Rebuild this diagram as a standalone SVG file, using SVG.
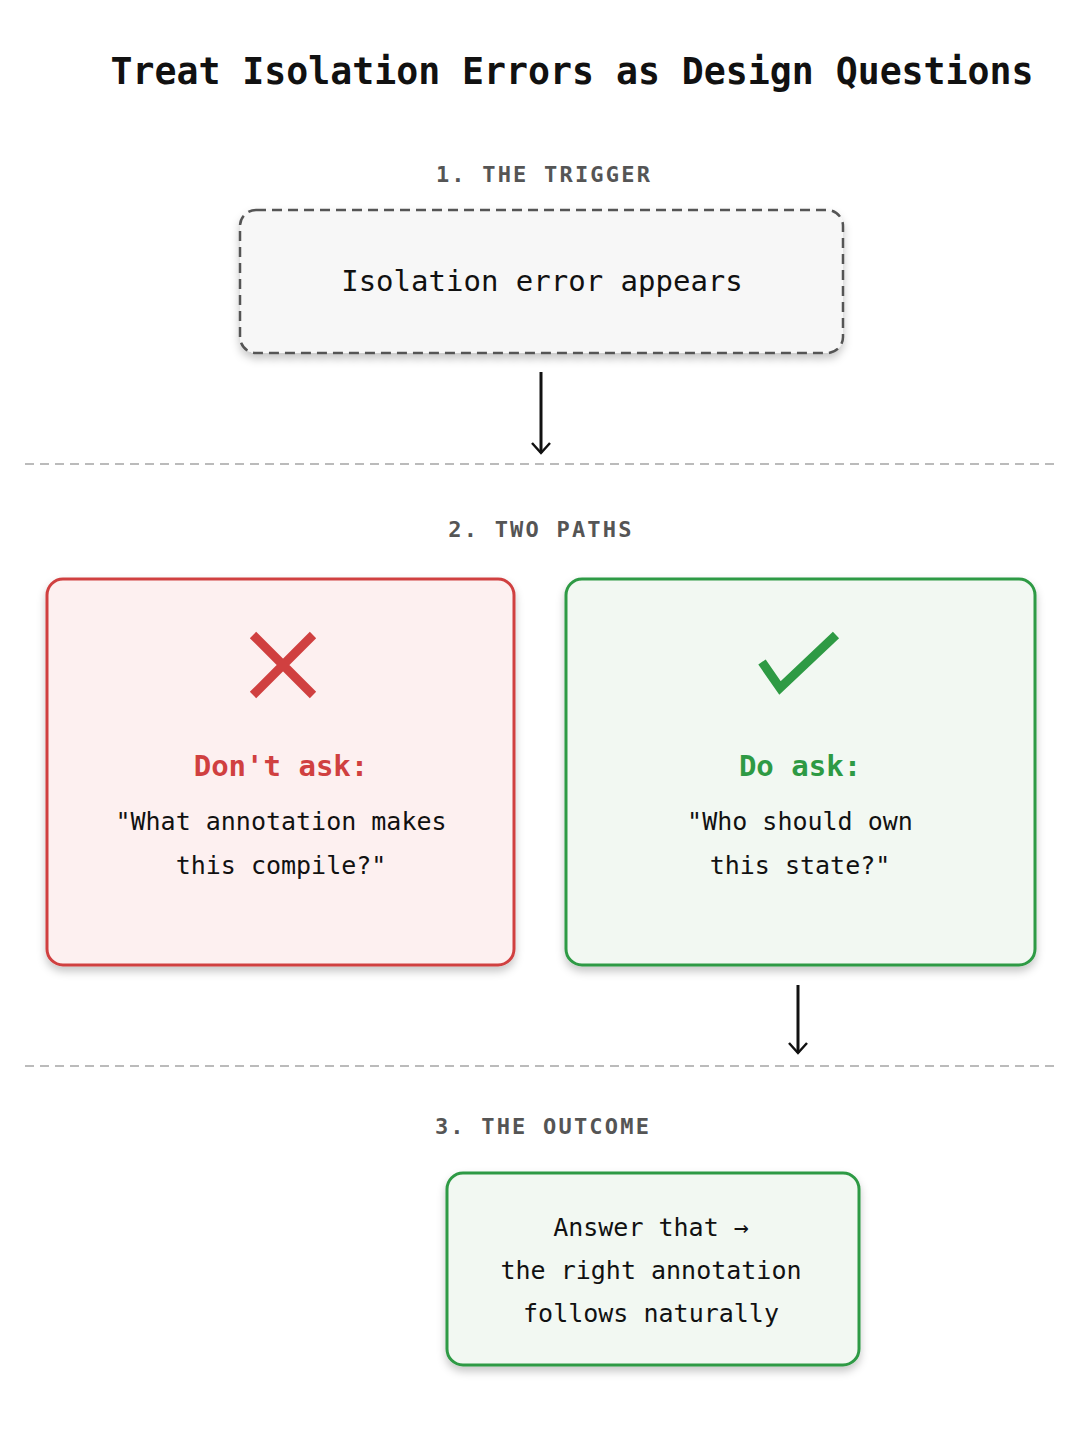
<svg xmlns="http://www.w3.org/2000/svg" width="1086" height="1448" viewBox="0 0 1086 1448">
<defs>
<filter id="sh" x="-10%" y="-10%" width="120%" height="130%"><feDropShadow dx="0" dy="5" stdDeviation="4" flood-color="#000" flood-opacity="0.22"/></filter>
<marker id="ah" viewBox="0 0 20 20" refX="18" refY="10" markerWidth="20" markerHeight="20" markerUnits="userSpaceOnUse" orient="auto"><path d="M8,1 L18,10 L8,19" fill="none" stroke="#111" stroke-width="2.5"/></marker>
<style>
text{font-family:"DejaVu Sans Mono","Liberation Mono",monospace;text-anchor:middle}
.sec{font-size:22px;font-weight:bold;fill:#555;letter-spacing:2.2px}
.body{font-size:25px;fill:#111}
.div{stroke:#bbb;stroke-width:2;stroke-dasharray:9 6}
.conn{stroke:#111;stroke-width:3;fill:none;marker-end:url(#ah)}
</style>
</defs>
<rect width="1086" height="1448" fill="#fff"/>
<text x="572" y="84" font-size="36.5" font-weight="bold" fill="#111">Treat Isolation Errors as Design Questions</text>
<text class="sec" x="544" y="182">1. THE TRIGGER</text>
<text class="sec" x="541" y="537">2. TWO PATHS</text>
<text class="sec" x="543" y="1134">3. THE OUTCOME</text>
<line class="div" x1="25" y1="464" x2="1060" y2="464"/>
<line class="div" x1="25" y1="1066" x2="1060" y2="1066"/>
<g id="trigger">
<rect x="240" y="210" width="603" height="143" rx="16" fill="#f7f7f7" stroke="#555" stroke-width="2.5" stroke-dasharray="10 6" filter="url(#sh)"/>
<text x="542" y="291" font-size="29" fill="#111">Isolation error appears</text>
</g>
<g id="dont">
<rect x="47" y="579" width="467" height="386" rx="16" fill="#fdf0f0" stroke="#d04040" stroke-width="3" filter="url(#sh)"/>
<path d="M253,635 L313,695 M313,635 L253,695" stroke="#d04040" stroke-width="9"/>
<text x="281" y="776" font-size="29" font-weight="bold" fill="#d04040">Don't ask:</text>
<text class="body" x="281" y="830">"What annotation makes</text>
<text class="body" x="281" y="874">this compile?"</text>
</g>
<g id="do">
<rect x="566" y="579" width="469" height="386" rx="16" fill="#f2f8f2" stroke="#2e9a44" stroke-width="3" filter="url(#sh)"/>
<path d="M762,662 L780,688 L836,635" stroke="#2e9a44" stroke-width="9" fill="none"/>
<text x="800" y="776" font-size="29" font-weight="bold" fill="#2e9a44">Do ask:</text>
<text class="body" x="800" y="830">"Who should own</text>
<text class="body" x="800" y="874">this state?"</text>
</g>
<g id="outcome">
<rect x="447" y="1173" width="412" height="192" rx="16" fill="#f2f8f2" stroke="#2e9a44" stroke-width="3" filter="url(#sh)"/>
<text class="body" x="651" y="1236">Answer that →</text>
<text class="body" x="651" y="1279">the right annotation</text>
<text class="body" x="651" y="1322">follows naturally</text>
</g>
<g id="connectors">
<line class="conn" x1="541" y1="372" x2="541" y2="453"/>
<line class="conn" x1="798" y1="985" x2="798" y2="1053"/>
</g>
</svg>
